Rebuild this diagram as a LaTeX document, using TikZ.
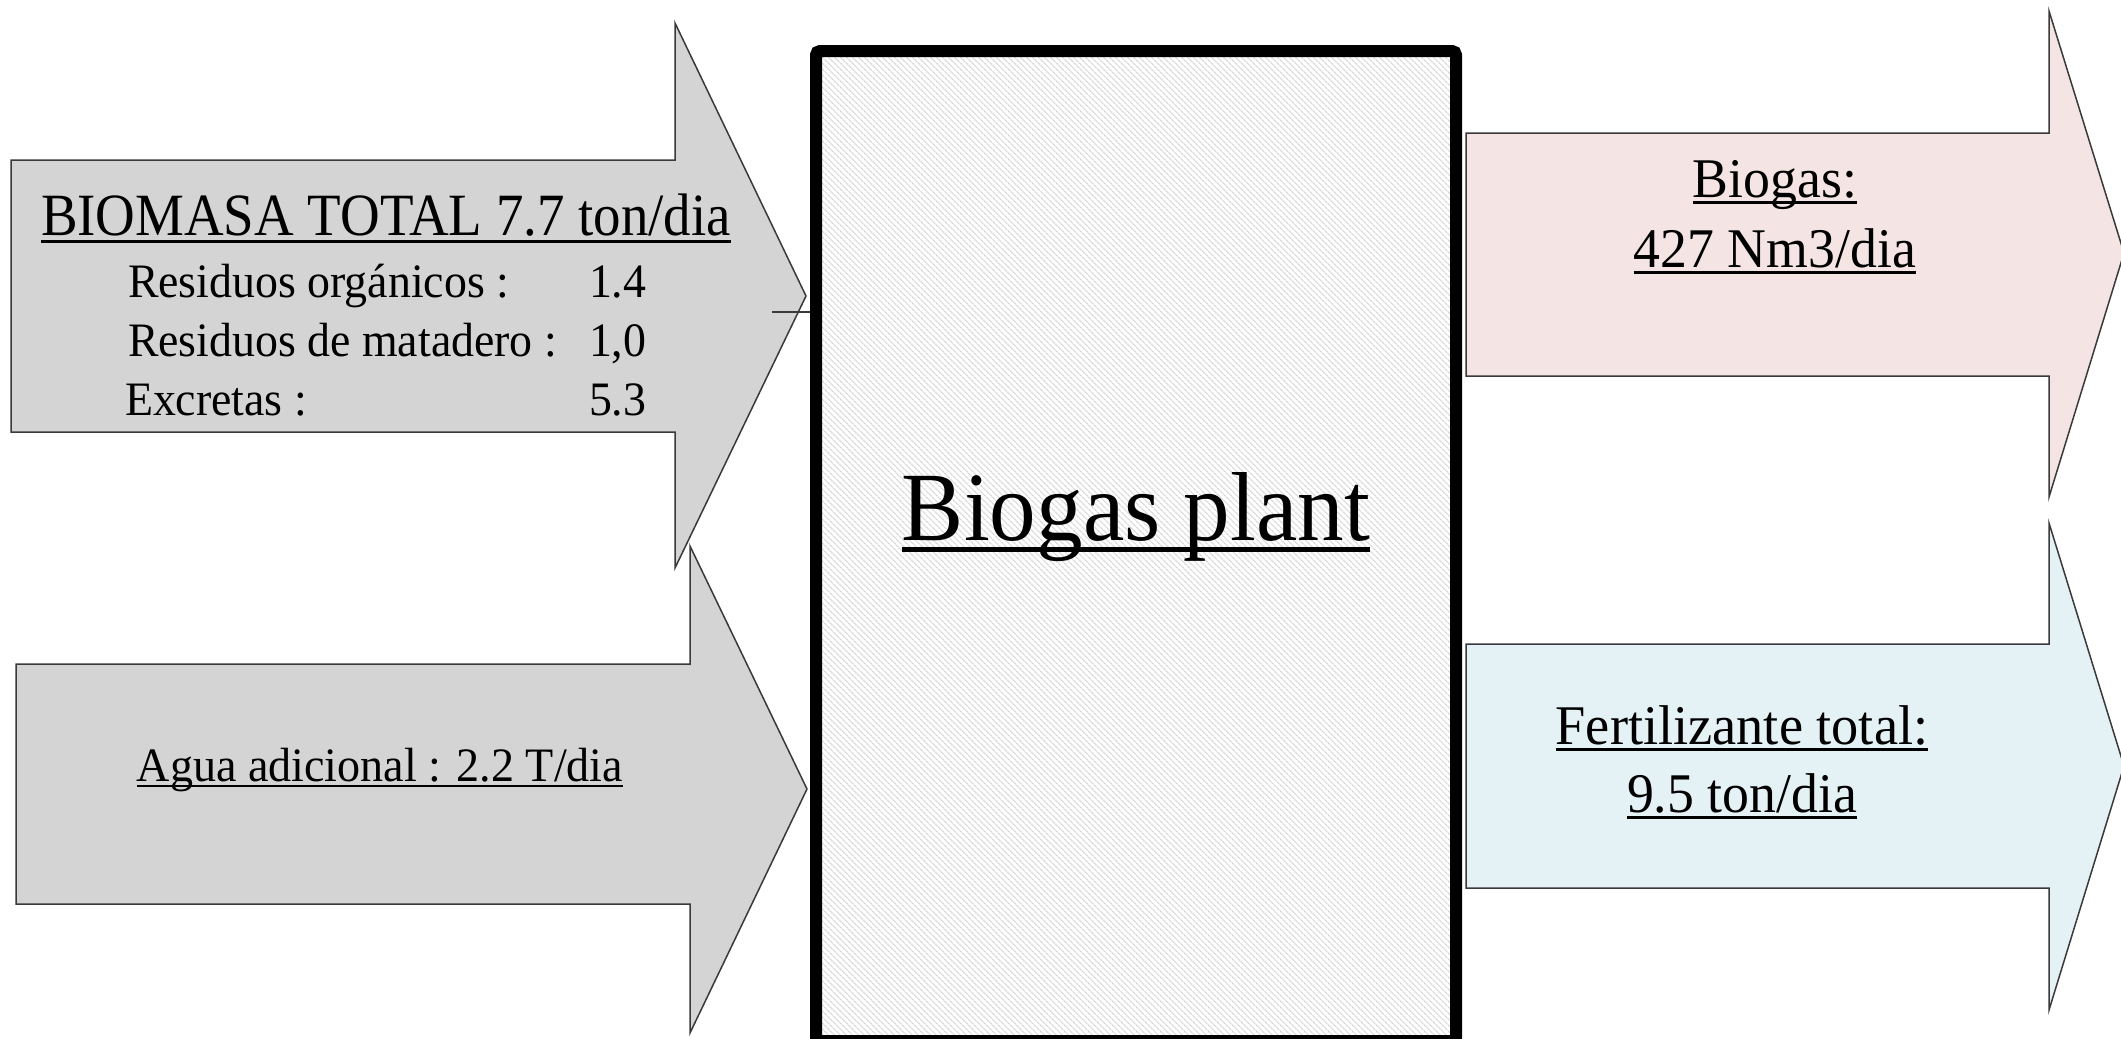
\documentclass[tikz,border=0pt]{standalone}
\usepackage{fontspec}
\usepackage{graphicx}
\setmainfont{Liberation Serif}
\usetikzlibrary{patterns.meta}
\definecolor{arrowgray}{HTML}{D4D4D4}
\definecolor{arrowpink}{HTML}{F5E4E4}
\definecolor{arrowblue}{HTML}{E4F1F5}
\definecolor{edgegray}{HTML}{3A3A3A}
\newsavebox\ulbox
\newcommand\myul[1]{\sbox\ulbox{#1}\rlap{\rule[-0.125em]{\wd\ulbox}{0.05em}}\usebox\ulbox}
\newcommand\sqz[2]{\scalebox{#1}[1]{#2}}
\tikzset{
  flowarrow/.style={draw=edgegray, line width=1.5pt, line join=miter},
  grayarrow/.style={flowarrow, fill=arrowgray},
  pinkarrow/.style={flowarrow, fill=arrowpink},
  bluearrow/.style={flowarrow, fill=arrowblue},
  txt/.style={inner sep=0pt, outer sep=0pt, text=black},
  plantbox/.style={draw=black, line width=12pt, rounded corners=4pt, inner sep=0pt,
    preaction={fill=white},
    preaction={pattern={Lines[angle=-45,distance=4pt,line width=1.3pt]}, pattern color=gray!30}},
}
\begin{document}
\begin{tikzpicture}[x=1pt,y=-1pt]
\useasboundingbox (0,0) rectangle (2121,1039);
\clip (0,0) rectangle (2121,1039);
\fill[white] (0,0) rectangle (2121,1039);
% input arrows
\draw[grayarrow] (11,160) -- (675,160) -- (675,23) -- (806,296) -- (675,568) -- (675,432) -- (11,432) -- cycle;
\draw[grayarrow] (16,664) -- (690,664) -- (690,546) -- (807,789) -- (690,1033) -- (690,904) -- (16,904) -- cycle;
% output arrows
\draw[pinkarrow] (1466,133) -- (2049,133) -- (2049,11) -- (2124,253) -- (2049,497) -- (2049,376) -- (1466,376) -- cycle;
\draw[bluearrow] (1466,644) -- (2049,644) -- (2049,523) -- (2124,766) -- (2049,1010) -- (2049,888) -- (1466,888) -- cycle;
% plant
\node[plantbox, minimum width=640pt, minimum height=990pt] (plant) at (1136,546) {};
\node[txt, anchor=base, font=\fontsize{98}{110}\selectfont] (plantlabel) at (1136,540) {\myul{\sqz{0.95}{Biogas plant}}};
% stub connector
\coordinate (stub) at (772,312);
\draw[edgegray, line width=1.5pt] (stub) -- (stub -| plant.west);
% biomass texts
\node[txt, anchor=base west, font=\fontsize{60}{66}\selectfont] (biomasa) at (41,235) {\myul{\sqz{0.915}{BIOMASA TOTAL 7.7 ton/dia}}};
\node[txt, anchor=base west, font=\fontsize{48}{54}\selectfont] (resorg) at (128,297) {\sqz{0.955}{Residuos orgánicos :}};
\node[txt, anchor=base west, font=\fontsize{48}{54}\selectfont] (resmat) at (128,356) {\sqz{0.955}{Residuos de matadero :}};
\node[txt, anchor=base west, font=\fontsize{48}{54}\selectfont] (excr) at (125,415) {\sqz{0.955}{Excretas :}};
\node[txt, anchor=base west, font=\fontsize{48}{54}\selectfont] (vorg) at (589,297) {\sqz{0.955}{1.4}};
\node[txt, anchor=base west, font=\fontsize{48}{54}\selectfont] (vmat) at (589,356) {\sqz{0.955}{1,0}};
\node[txt, anchor=base west, font=\fontsize{48}{54}\selectfont] (vexc) at (589,415) {\sqz{0.955}{5.3}};
% water
\node[txt, anchor=base, font=\fontsize{48}{54}\selectfont] (agua) at (380,781) {\myul{\sqz{0.96}{Agua adicional : 2.2 T/dia}}};
% outputs
\node[txt, anchor=base, font=\fontsize{56}{62}\selectfont] (biogas1) at (1775,197) {\myul{\sqz{0.96}{Biogas:}}};
\node[txt, anchor=base, font=\fontsize{56}{62}\selectfont] (biogas2) at (1775,267) {\myul{\sqz{0.96}{427 Nm3/dia}}};
\node[txt, anchor=base, font=\fontsize{56}{62}\selectfont] (fert1) at (1742,744) {\myul{\sqz{0.97}{Fertilizante total:}}};
\node[txt, anchor=base, font=\fontsize{56}{62}\selectfont] (fert2) at (1742,812) {\myul{\sqz{0.96}{9.5 ton/dia}}};
\end{tikzpicture}
\end{document}
